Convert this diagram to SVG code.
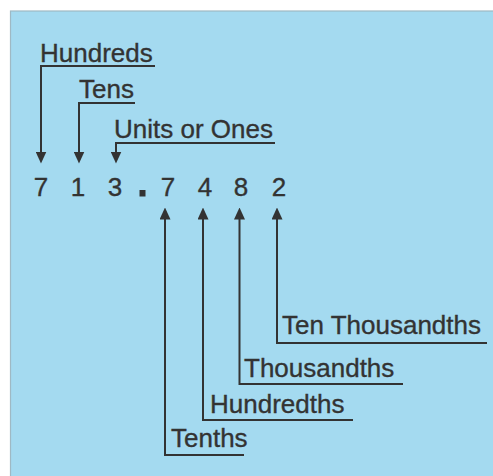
<svg xmlns="http://www.w3.org/2000/svg" width="493" height="476" viewBox="0 0 493 476">
<style>
.lbl{font-family:"Liberation Sans",Arial,sans-serif;font-size:26px;fill:#333333;stroke:#333333;stroke-width:0.35}
.dig{font-family:"Liberation Sans",Arial,sans-serif;font-size:26px;fill:#333333;stroke:#333333;stroke-width:0.35;text-anchor:middle}
.con{fill:none;stroke:#333333;stroke-width:2}
</style>
<defs>
<marker id="arr" viewBox="0 0 12 11" markerWidth="12" markerHeight="11" refX="0.5" refY="5.5" orient="auto" markerUnits="userSpaceOnUse">
<path d="M0,0 L12,5.5 L0,11 z" fill="#333333"/>
</marker>
</defs>
<rect x="0" y="0" width="493" height="476" fill="#ffffff"/>
<rect x="10.5" y="11" width="484" height="467" fill="#a4daf0" stroke="#9fb9c4" stroke-width="1.2"/>
<g id="connectors">
<path class="con" marker-end="url(#arr)" d="M155,66 H41 V152"/>
<path class="con" marker-end="url(#arr)" d="M135,103 H79 V152"/>
<path class="con" marker-end="url(#arr)" d="M275,143 H116 V152"/>
<path class="con" marker-end="url(#arr)" d="M244,455 H165 V219"/>
<path class="con" marker-end="url(#arr)" d="M353,420 H203 V219"/>
<path class="con" marker-end="url(#arr)" d="M403,384 H239.5 V219"/>
<path class="con" marker-end="url(#arr)" d="M487,343 H277 V219"/>
</g>
<g id="hundreds"><text class="lbl" x="40" y="62">Hundreds</text></g>
<g id="tens"><text class="lbl" x="79" y="98">Tens</text></g>
<g id="units"><text class="lbl" x="114" y="138">Units or Ones</text></g>
<g id="number">
<text class="dig" x="41" y="196">7</text>
<text class="dig" x="78" y="196">1</text>
<text class="dig" x="115" y="196">3</text>
<rect x="139.5" y="190" width="6" height="6.5" fill="#333333"/>
<text class="dig" x="168" y="196">7</text>
<text class="dig" x="205" y="196">4</text>
<text class="dig" x="241" y="196">8</text>
<text class="dig" x="279" y="196">2</text>
</g>
<g id="tenthousandths"><text class="lbl" x="282" y="334">Ten Thousandths</text></g>
<g id="thousandths"><text class="lbl" x="244" y="377">Thousandths</text></g>
<g id="hundredths"><text class="lbl" x="210" y="413">Hundredths</text></g>
<g id="tenths"><text class="lbl" x="171" y="447">Tenths</text></g>
</svg>
